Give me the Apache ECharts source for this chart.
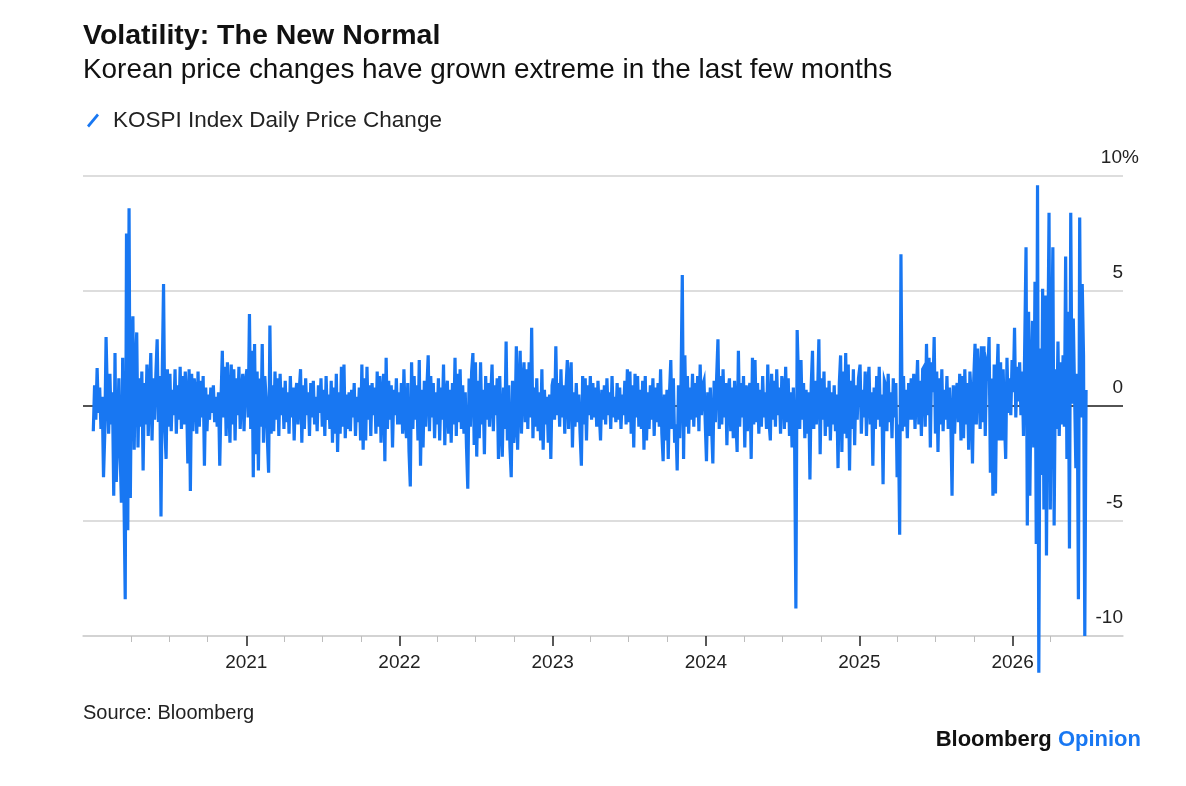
<!DOCTYPE html>
<html>
<head>
<meta charset="utf-8">
<title>Volatility: The New Normal</title>
<script src="https://cdn.jsdelivr.net/npm/echarts@6/dist/echarts.min.js"></script>
<style>
  html, body { margin: 0; padding: 0; background: #fff; }
  #chart { width: 1186px; height: 786px; }
</style>
</head>
<body>
<div id="chart"></div>
<script>
// KOSPI daily % change (~every other session, 10 per month)
const chg2020 = [
  -1.1, 0.9, -0.6, 1.65, -0.3, 0.8, -1.0, 0.4, -3.1, -1.2,
  3.0, 0.5, -1.2, 1.4, -0.8, 0.6, -3.9, 2.3, -3.3, -1.5,
  1.2, -2.0, -4.2, 2.1, -3.9, -8.4, 7.5, -5.4, 8.6, -4.0,
  2.3, 3.9, -1.9, 1.6, 3.2, -1.8, 1.2, -0.9, 1.5, -2.8,
  1.0, -0.8, 1.8, -1.3, 0.6, 2.3, -1.5, 1.2, -0.6, 1.4,
  2.9, -0.7, 1.3, -4.8, 1.5, 5.3, -1.0, -2.3, 1.6, -0.9,
  1.4, -1.1, 0.7, -0.4, 1.6, -1.2, 0.9, -0.6, 1.7, -1.0,
  1.3, -0.8, 1.5, 0.4, -2.5, 1.6, -3.7, 1.4, -1.1, 1.2,
  0.6, -1.2, 1.5, -0.9, 1.1, -0.5, 1.3, -2.6, 0.8, -1.1,
  0.5, -0.6, 0.8, -0.3, 0.9, -0.7, 0.4, -0.9, 0.6, -2.6,
  0.3, 2.4, -0.5, 1.7, -1.3, 1.9, 0.2, -1.6, 1.8, -0.8,
  1.6, -1.5, 1.2, -0.4, 1.7, -1.0, 0.6, 1.4, -1.1, 1.0
]
const chg2021 = [
  1.6, -0.5, 4.0, -1.0, 2.4, -3.1, 2.7, -2.1, 1.5, -2.8,
  1.2, -0.9, 2.7, -1.6, 1.3, 0.4, -1.4, -2.9, 3.5, -1.2,
  0.9, -1.1, 1.5, -0.6, 1.2, -1.3, 1.4, -0.4, 0.8, -1.0,
  1.1, -0.7, 0.6, -1.2, 1.3, -0.5, 0.8, -1.5, 0.5, 1.0,
  -0.8, 0.7, 1.6, -1.6, 0.9, -1.0, 1.2, -0.4, 0.6, -1.3,
  1.0, -0.5, 1.1, -0.8, 0.4, -1.1, 0.9, -0.3, 1.2, -0.9,
  0.7, -1.3, 1.3, -0.6, 0.5, -1.0, 1.1, -1.6, 0.8, -1.2,
  1.4, -2.0, 0.6, -1.2, 1.7, -0.9, 1.8, -1.4, 0.5, -1.0,
  0.6, -1.1, 0.7, -0.5, 1.0, -1.3, 0.4, -0.7, 0.8, -1.5,
  1.8, -1.9, 1.2, -1.5, 1.7, -0.6, 0.9, -1.3, 1.0, -0.4,
  0.8, -1.2, 1.5, -0.9, 1.3, -1.6, 0.5, 1.4, -2.4, 2.1,
  -1.0, 1.1, -0.6, 0.9, -1.8, 0.7, -0.4, 1.2, -0.8, 0.6
]
const chg2022 = [
  -0.8, 1.0, -1.2, 1.6, -0.5, -1.4, 1.0, -2.0, -3.5, 1.9,
  -1.0, 1.3, -0.6, 0.9, -1.5, 2.0, -2.6, 0.7, -1.8, 1.1,
  -0.9, 0.8, 2.2, -1.1, 1.3, -0.5, 1.0, -1.4, 0.6, -0.8,
  1.2, -1.5, 0.8, -0.6, 1.8, -1.7, 0.5, 1.1, -1.2, 0.7,
  -1.6, 1.0, -0.8, 2.1, -1.3, 1.4, -0.7, 1.6, -1.0, 0.9,
  -1.2, 0.6, -1.8, -3.6, 1.2, -0.9, 1.5, 2.3, -1.7, 1.9,
  -2.2, 1.1, -1.4, 1.9, -0.8, 0.7, -2.1, 1.3, -0.6, 1.0,
  -0.9, 0.5, 1.8, -1.1, 0.9, -0.4, 1.2, -2.3, 1.3, -0.7,
  -2.2, 0.8, -1.0, 2.8, -1.5, 0.9, -1.8, -3.1, 1.1, -1.6,
  -0.8, 2.6, -1.9, 0.6, 2.4, -1.2, 0.9, 1.9, -0.7, 1.6,
  -1.0, 1.9, -0.5, 3.4, -1.4, 0.8, -0.9, 1.2, -1.1, 0.6,
  -1.5, 1.6, -1.9, 0.7, -0.8, 0.4, -1.6, 0.5, -2.3, 0.9
]
const chg2023 = [
  1.2, -0.6, 2.6, -0.4, 1.0, -0.9, 1.6, -0.5, 0.9, -1.2,
  0.8, 2.0, -1.0, 1.1, 1.9, -1.8, 0.6, -0.9, 1.0, -0.7,
  0.5, -1.2, -2.6, 1.3, -0.8, 1.2, -1.5, 0.9, -0.4, 1.3,
  -0.6, 1.0, -0.5, 0.8, -0.9, 1.1, -0.3, -1.5, 0.7, -0.6,
  0.9, -0.8, 1.2, -0.4, 0.6, -1.0, 1.3, -0.5, 0.4, -0.7,
  1.0, -0.6, 0.8, -1.0, 0.5, -0.4, 1.1, -0.8, 1.6, -0.7,
  1.5, -1.2, 0.9, -1.8, 1.4, -0.5, 1.3, -0.9, 0.7, -1.0,
  1.1, -1.9, 1.3, -1.5, 0.6, -1.0, 0.9, -0.6, 1.2, -1.3,
  0.8, -0.7, 1.0, -0.9, 1.6, -1.2, -2.4, 0.5, -1.5, 0.7,
  -2.3, 0.6, 2.0, -1.0, 1.2, -1.6, -0.8, -2.8, 0.9, -1.4,
  1.0, 5.7, -2.3, 2.2, -0.9, 1.3, -1.2, 0.8, -0.6, 1.4,
  -0.9, 1.0, -0.5, 1.3, -1.1, 1.8, -0.4, 0.9, 1.1, -0.8
]
const chg2024 = [
  -2.4, 0.6, -1.3, 0.8, -0.9, -2.5, 1.1, -0.7, 1.3, 2.9,
  -1.0, 1.3, -0.8, 1.6, -0.5, 1.0, -1.7, 0.7, 1.2, -1.1,
  0.8, -1.4, 1.1, -0.6, -2.0, 2.4, -0.9, 1.0, -0.5, 1.3,
  -1.8, 0.9, -1.1, 0.6, 1.0, -2.3, 2.1, -0.8, 2.0, -0.7,
  1.0, -1.2, 0.7, -0.9, 1.3, -0.5, 0.6, -1.0, 1.8, -0.7,
  -1.5, 1.4, -0.6, 1.1, -0.9, 1.6, -0.4, 0.8, -1.2, 1.3,
  0.9, -1.0, 1.7, -0.7, 1.2, -1.3, 0.6, -1.8, 0.8, -1.5,
  -8.8, 3.3, 1.2, -1.0, 2.0, -0.6, 1.0, -1.4, 0.7, -1.2,
  0.6, -3.2, 0.9, 2.4, -1.0, 1.1, -0.8, 0.5, 2.9, -2.1,
  1.2, -0.6, 1.5, -1.3, 0.8, -0.9, 1.1, -1.5, 0.6, -0.8,
  0.9, -1.1, 0.5, -2.7, 1.0, 2.2, -2.0, 1.5, -1.2, 2.3,
  -1.4, 1.8, -2.8, 1.1, -1.0, 1.6, -1.7, 0.9, -0.6, 1.2
]
const chg2025 = [
  1.8, -1.2, 0.7, -0.5, 1.5, -1.3, 0.9, 1.7, -0.8, 0.6,
  -2.6, 0.8, -1.0, 1.3, -0.6, 1.7, -0.9, 0.5, -3.4, 1.1,
  0.9, -1.1, 1.4, -0.7, 0.6, -1.4, 1.2, -0.5, 1.0, -3.1,
  -0.8, -5.6, 6.6, -1.1, 1.3, -0.9, 0.7, -1.4, 1.0, -0.6,
  1.2, -0.6, 1.4, -1.0, 0.5, 2.0, -0.8, 1.1, -1.3, 1.6,
  1.7, -0.9, 2.7, -0.4, 2.1, -1.8, 1.9, 0.6, 3.0, -1.2,
  1.5, -2.0, 1.2, -0.8, 1.6, -1.1, 0.7, -0.6, 1.3, -1.0,
  0.8, -0.5, -3.9, 0.9, -1.2, 0.6, 1.0, -0.7, 1.4, -1.5,
  1.3, -1.4, 1.6, -0.8, 1.0, -1.9, 1.5, 0.4, -2.5, 1.2,
  2.7, -0.8, 2.5, 1.2, -1.0, 2.6, -0.7, 2.6, -1.3, 1.8,
  1.5, 3.0, -2.9, 1.2, -3.9, 1.8, -3.8, 0.9, 2.7, -1.5,
  1.9, -1.5, 1.6, -0.6, -2.3, 2.1, -0.3, 1.2, -0.4, 2.0
]
const chg2026 = [
  0.6, 3.4, -0.5, 1.7, 0.2, 1.9, -0.4, 1.5, -1.3, 2.8,
  6.9, -5.2, 4.1, -3.9, 1.2, 3.7, -1.8, 5.4, -6.0, 9.6,
  -11.6, 2.5, -3.0, 5.1, -4.5, 4.8, -6.5, 1.9, 8.4, -4.5,
  2.1, 6.9, -5.2, 1.6, -1.0, 2.8, -1.3, 1.9, -0.8, 2.2,
  -0.9, 6.5, -2.3, 4.1, -6.2, 8.4, 0.1, 3.8, 0.6, -2.7,
  1.4, -8.4, 8.2, -0.5, 5.3, 2.2, -10.0, 0.7
]

const years = [2020, 2021, 2022, 2023, 2024, 2025, 2026]
const yearlyChanges = [chg2020, chg2021, chg2022, chg2023, chg2024, chg2025, chg2026]

// axis labels / ticks
const yTicks = [-10, -5, 0, 5, 10]
const yearLabels = [2021, 2022, 2023, 2024, 2025, 2026]
const quarterTicks = [
  '2020-04-01', '2020-07-01', '2020-10-01',
  '2021-04-01', '2021-07-01', '2021-10-01',
  '2022-04-01', '2022-07-01', '2022-10-01',
  '2023-04-01', '2023-07-01', '2023-10-01',
  '2024-04-01', '2024-07-01', '2024-10-01',
  '2025-04-01', '2025-07-01', '2025-10-01',
  '2026-04-01'
]
const xStart = '2019-12-09'
const xEnd = '2026-09-21'

const BLUE = '#1877f2'
const FONT = '"Liberation Sans", Arial, sans-serif'
const DAY = 86400000
const PER_YEAR = 120

const utc = s => {
  const [y, m, d] = s.split('-').map(Number)
  return Date.UTC(y, m - 1, d)
}

// spread each year's readings over that year, one slot per reading
const seriesData = []
years.forEach((yr, k) => {
  const step = 365.25 / PER_YEAR
  yearlyChanges[k].forEach((v, i) => {
    seriesData.push([Date.UTC(yr, 0, 1) + (i + 0.5) * step * DAY, v])
  })
})

const chart = echarts.init(document.getElementById('chart'), null, { renderer: 'canvas' })

// x axes are plain value axes holding UTC milliseconds
const option = {
  animation: false,
  backgroundColor: '#fff',
  grid: { left: 83, right: 63, top: 176, bottom: 150, containLabel: false },
  legend: {
    left: 82,
    top: 104,
    itemWidth: 12,
    itemHeight: 16,
    icon: 'path://M0,13 L10,1 L12,3 L2,15 Z',
    textStyle: { fontFamily: FONT, fontSize: 22.5, color: '#222', padding: [0, 0, 0, 9] },
    data: ['KOSPI Index Daily Price Change']
  },
  xAxis: [
    {
      type: 'value',
      position: 'bottom',
      min: utc(xStart),
      max: utc(xEnd),
      axisLine: { onZero: false, lineStyle: { color: '#cfcfcf', width: 1.5 } },
      axisTick: {
        show: true,
        customValues: yearLabels.map(y => Date.UTC(y, 0, 1)),
        length: 10,
        lineStyle: { color: '#222', width: 1.5 }
      },
      axisLabel: {
        customValues: yearLabels.map(y => Date.UTC(y, 0, 1)),
        formatter: v => String(new Date(v + DAY).getUTCFullYear()),
        fontFamily: FONT,
        fontSize: 19,
        color: '#222',
        margin: 17
      },
      splitLine: { show: false }
    },
    {
      type: 'value',
      position: 'bottom',
      min: utc(xStart),
      max: utc(xEnd),
      axisLine: { show: false, onZero: false },
      axisTick: {
        show: true,
        customValues: quarterTicks.map(utc),
        length: 6,
        lineStyle: { color: '#bdbdbd', width: 1 }
      },
      axisLabel: { show: false },
      splitLine: { show: false }
    }
  ],
  yAxis: {
    type: 'value',
    position: 'right',
    min: yTicks[0],
    max: yTicks[yTicks.length - 1],
    interval: 5,
    axisLine: { show: false },
    axisTick: { show: false },
    axisLabel: {
      inside: true,
      margin: 0,
      fontFamily: FONT,
      fontSize: 19,
      color: '#222',
      verticalAlign: 'middle',
      padding: [0, 0, 37, 0],
      // the % sign hangs past the right edge, as in the original
      formatter: v => (v === yTicks[yTicks.length - 1] ? '{n|' + v + '}{p|%}' : String(v)),
      rich: {
        n: { align: 'left', fontFamily: FONT, fontSize: 19, color: '#222' },
        p: { width: 1, align: 'left', fontFamily: FONT, fontSize: 19, color: '#222' }
      }
    },
    splitLine: {
      show: true,
      lineStyle: { color: ['#d2d2d2', '#d2d2d2', '#1a1a1a', '#d2d2d2', '#d2d2d2'], width: 1.5 }
    }
  },
  series: [
    {
      name: 'KOSPI Index Daily Price Change',
      type: 'line',
      xAxisIndex: 0,
      data: seriesData,
      showSymbol: false,
      clip: false,
      color: BLUE,
      lineStyle: { color: BLUE, width: 3.2, join: 'miter' },
      z: 5
    }
  ],
  graphic: [
    {
      type: 'text', left: 83, top: 22,
      style: { text: 'Volatility: The New Normal', font: 'bold 28.5px ' + FONT, fill: '#111' }
    },
    {
      type: 'text', left: 83, top: 56,
      style: { text: 'Korean price changes have grown extreme in the last few months', font: '27.9px ' + FONT, fill: '#111' }
    },
    {
      type: 'text', left: 83, top: 703,
      style: { text: 'Source: Bloomberg', font: '20px ' + FONT, fill: '#222' }
    },
    {
      type: 'text', right: 45, top: 729,
      style: {
        text: '{a|Bloomberg} {b|Opinion}',
        font: 'bold 22px ' + FONT,
        rich: {
          a: { font: 'bold 22px ' + FONT, fill: '#111' },
          b: { font: 'bold 22px ' + FONT, fill: BLUE }
        }
      }
    }
  ]
}

chart.setOption(option)
</script>
</body>
</html>
